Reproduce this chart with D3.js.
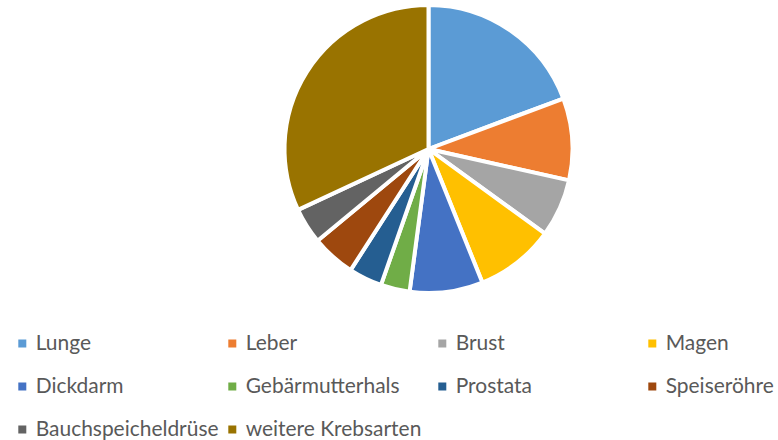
<!DOCTYPE html>
<html>
<head>
<meta charset="utf-8">
<script src="https://cdn.jsdelivr.net/npm/d3@7"></script>
<style>
  html, body { margin: 0; padding: 0; background: #fff; }
  svg { display: block; }
</style>
</head>
<body>
<div id="container"></div>
<script>
// categories and their shares (percent)
const categories = ["Lunge", "Leber", "Brust", "Magen", "Dickdarm",
    "Gebärmutterhals", "Prostata", "Speiseröhre", "Bauchspeicheldrüse", "weitere Krebsarten"];
const values = [19.3, 9.2, 6.5, 8.9, 8.2, 3.25, 3.75, 4.9, 4.05, 31.95];
const colors = ["#5B9BD5", "#ED7D31", "#A5A5A5", "#FFC000", "#4472C4",
    "#70AD47", "#255E91", "#9E480E", "#636363", "#997300"];

let w = 778;
let h = 440;

let viz = d3.select("#container")
    .append("svg")
    .attr("width", w)
    .attr("height", h)
;

let data = categories.map((c, i) => ({name: c, value: values[i]}));

// pie, clockwise from 12 o'clock, keep the given order
let pie = d3.pie().sort(null).value(d => d.value);
let arc = d3.arc().innerRadius(0).outerRadius(144);
let color = d3.scaleOrdinal().domain(categories).range(colors);

let pieGroup = viz.append("g")
    .attr("transform", "translate(428.5,149)");

pieGroup.selectAll(".slice")
    .data(pie(data))
    .enter()
    .append("path")
    .classed("slice", true)
    .attr("d", arc)
    .attr("fill", d => color(d.data.name))
    .attr("stroke", "#fff")
    .attr("stroke-width", 4)
    .attr("stroke-linejoin", "round")
;

// legend: 4 columns, 3 rows
let colX = d3.scalePoint().domain([0, 1, 2, 3]).range([18.3, 648.3]);
let rowY = d3.scalePoint().domain([0, 1, 2]).range([343.5, 429.5]);

let legend = viz.append("g").classed("legend", true);
let items = legend.selectAll(".item")
    .data(data)
    .enter()
    .append("g")
    .classed("item", true)
    .attr("transform", (d, i) => `translate(${colX(i % 4)},${rowY(Math.floor(i / 4))})`);

items.append("rect")
    .attr("x", 0)
    .attr("y", -4)
    .attr("width", 8)
    .attr("height", 8)
    .attr("fill", d => color(d.name));

let labels = items.append("text")
    .attr("x", 17.4)
    .attr("y", 6.5)
    .attr("fill", "#595959")
    .style("font-family", "Lato, 'Open Sans', sans-serif")
    .style("font-size", "18px")
    .text(d => d.name);

// fit the font size so the longest label is as wide as in the picture
let longest = labels.filter(d => d.name === "Bauchspeicheldrüse").node();
let fs = 18 * 183 / longest.getComputedTextLength();
labels.style("font-size", fs + "px");
</script>
</body>
</html>
